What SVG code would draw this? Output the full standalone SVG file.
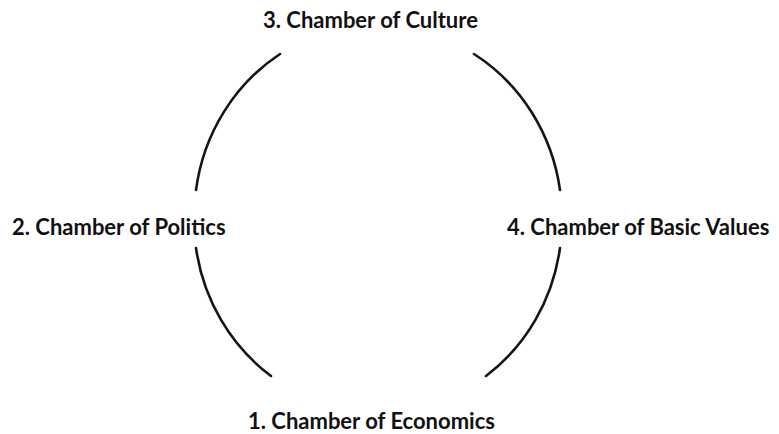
<svg xmlns="http://www.w3.org/2000/svg" width="779" height="434" viewBox="0 0 779 434">
<style>
.lbl{font-family:Lato,"Open Sans","Liberation Sans",sans-serif;font-weight:700;font-size:22px;fill:#111}
.arc{fill:none;stroke:#151515;stroke-width:2.6;stroke-linecap:round}
</style>
<rect width="779" height="434" fill="#fff"/>
<g id="connectors">
<path class="arc" d="M280 54 A184 192 0 0 0 196 190"/>
<path class="arc" d="M474 54 A184 192 0 0 1 560 190"/>
<path class="arc" d="M196 248 A184 192 0 0 0 271 376"/>
<path class="arc" d="M560 248 A184 192 0 0 1 486 376"/>
</g>
<g id="culture"><text class="lbl" x="263" y="28">3. Chamber of Culture</text></g>
<g id="politics"><text class="lbl" x="12" y="235">2. Chamber of Politics</text></g>
<g id="values"><text class="lbl" x="507" y="235">4. Chamber of Basic Values</text></g>
<g id="economics"><text class="lbl" x="248" y="429">1. Chamber of Economics</text></g>
</svg>
